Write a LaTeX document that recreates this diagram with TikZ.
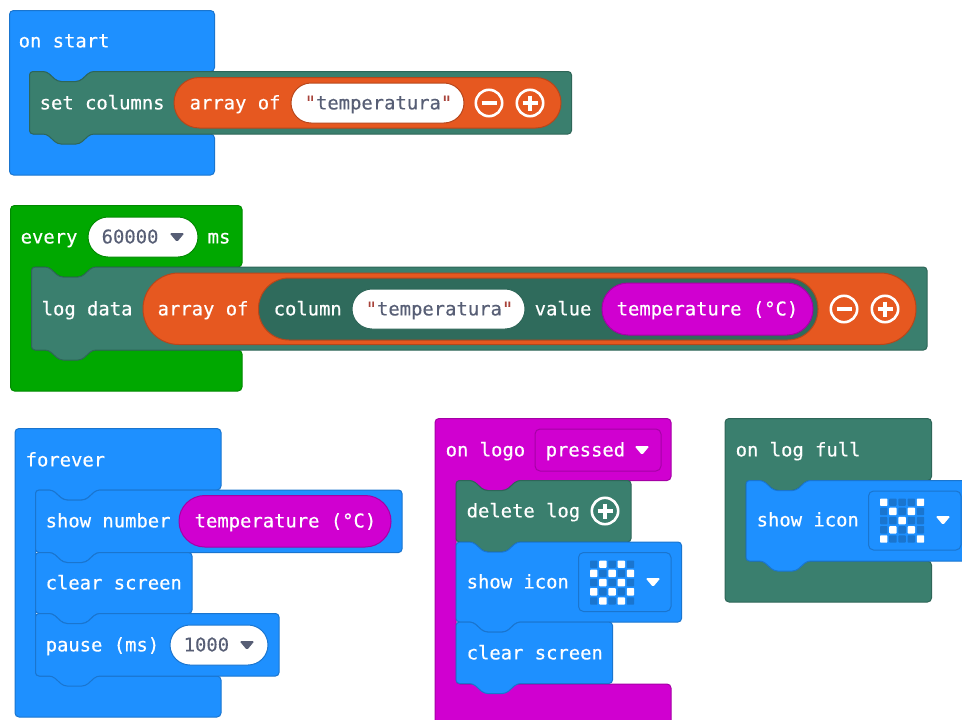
\documentclass[tikz,border=0pt]{standalone}
\usepackage{fontspec}
\setmonofont{DejaVu Sans Mono}
\newfontfamily\blockfont{DejaVu Sans Mono}[FakeBold=0.45]
\newfontfamily\litfont{DejaVu Sans Mono}[FakeBold=0.3]
\definecolor{bluef}{HTML}{1E90FF}\definecolor{blued}{HTML}{1A75CF}
\definecolor{tealf}{HTML}{3A7F6E}\definecolor{teald}{HTML}{2E6658}
\definecolor{tealx}{HTML}{2F6B5C}
\definecolor{greenf}{HTML}{00A800}\definecolor{greend}{HTML}{008A00}
\definecolor{magf}{HTML}{D000D0}\definecolor{magd}{HTML}{A600A6}
\definecolor{orf}{HTML}{E65820}\definecolor{ord}{HTML}{B8461A}
\definecolor{inkc}{HTML}{575E75}\definecolor{quotec}{HTML}{A8433A}
\tikzset{
  lbl/.style={anchor=base west,inner sep=0pt,text=white,font=\blockfont\fontsize{18.85}{20}\selectfont},
  lit/.style={lbl,text=inkc,font=\litfont\fontsize{18.85}{20}\selectfont},
  bluek/.style={fill=bluef,draw=blued},
  tealk/.style={fill=tealf,draw=teald},
  greenk/.style={fill=greenf,draw=greend},
  magk/.style={fill=magf,draw=magd},
  orangek/.style={fill=orf,draw=ord},
  whitek/.style={fill=white,draw=#1},
}
% x0,y0,x1,y1,style : statement block with notch and bump
\newcommand\stk[5]{\path[#5,line width=1pt,rounded corners=3.5pt]
  (#1,#2) -- (#1+17,#2) -- (#1+28,#2+10) -- (#1+50,#2+10) -- (#1+61,#2) -- (#3,#2)
  -- (#3,#4) -- (#1+61,#4) -- (#1+50,#4+10) -- (#1+28,#4+10) -- (#1+17,#4) -- (#1,#4) -- cycle;}
% x0,y0,x1,y1,yA,yB,xi,style : C-shaped hat, its upper arm carrying a bump
\newcommand\hatb[8]{\path[#8,line width=1pt,rounded corners=4pt]
  (#1,#2) -- (#3,#2) -- (#3,#5) -- (#7+61,#5) -- (#7+50,#5+10) -- (#7+28,#5+10) -- (#7+17,#5)
  -- (#7,#5) -- (#7,#6) -- (#3,#6) -- (#3,#4) -- (#1,#4) -- cycle;}
% x0,y0,x1,y1,style : pill
\newcommand\pill[5]{\path[#5,line width=1pt,rounded corners=0.4999*(#4-#2)*1pt] (#1,#2) rectangle (#3,#4);}
% cx,cy,colour
\newcommand\tri[3]{\fill[#3,rounded corners=1.5pt] (#1-7.5,#2-4) -- (#1+7.5,#2-4) -- (#1,#2+5) -- cycle;}
\newcommand\roundbtn[3]{%
  \draw[white,line width=2.6pt] (#1,#2) circle[radius=13.2pt];
  \draw[white,line width=4.4pt] (#1-7.5,#2) -- (#1+7.5,#2);
  \ifnum#3=1 \draw[white,line width=4.4pt] (#1,#2-7.5) -- (#1,#2+7.5);\fi}
% x0,y0,pattern
\newcommand\icongrid[3]{\foreach \v [count=\i from 0] in {#3}{%
  \pgfmathtruncatemacro\cc{mod(\i,5)}\pgfmathtruncatemacro\rr{int(\i/5)}%
  \ifnum\v=1 \def\cl{white}\else \def\cl{blued}\fi
  \fill[\cl,rounded corners=0.8pt] (#1+\cc*9.2,#2+\rr*9.2) rectangle ++(7.4,7.4);}}
\newcommand\lab[4]{\node[lbl] (#1) at (#2-0.5,#3+6.4) {#4};}
\newcommand\lit[4]{\node[lit] (#1) at (#2-0.5,#3+6.4) {#4};}
\newcommand\qt[1]{\textcolor{quotec}{"}#1\textcolor{quotec}{"}}
\begin{document}
\begin{tikzpicture}[x=1pt,y=-1pt]
\clip (0,0) rectangle (962,720);
\fill[white] (0,0) rectangle (962,720);
% on start
\hatb{9.5}{10.5}{214.5}{175}{71.5}{134}{29.5}{bluek}
\lab{a1}{19}{41}{on start}
\stk{29.5}{71.5}{571.5}{134}{tealk}
\lab{a2}{40}{103}{set columns}
\pill{174}{77.5}{561}{128}{orangek}
\lab{a3}{190}{103}{array of}
\pill{291}{83}{464}{123}{whitek=ord}
\lit{a4}{305}{103}{\qt{temperatura}}
\roundbtn{489}{103}{0}\roundbtn{530}{103}{1}
% every
\hatb{10.5}{205.5}{242}{391}{267}{350}{31.5}{greenk}
\lab{b1}{21}{237}{every}
\pill{88}{217}{198}{257}{whitek=greend}
\lit{b2}{102}{237}{60000}
\tri{177}{237}{inkc}
\lab{b3}{208}{237}{ms}
\stk{31.5}{267}{927}{350}{tealk}
\lab{b4}{42}{309}{log data}
\pill{143}{273}{916}{344.5}{orangek}
\lab{b5}{158}{309}{array of}
\path[fill=tealx,draw=ord,line width=1pt,rounded corners=30.5pt] (258.5,278) rectangle (818,340);
\lab{b6}{274}{309}{column}
\pill{352}{289}{525}{329}{whitek=teald}
\lit{b7}{366}{309}{\qt{temperatura}}
\lab{b8}{535}{309}{value}
\pill{602}{283}{813}{335}{magk}
\lab{b9}{617}{309}{temperature (°C)}
\roundbtn{844}{309}{0}\roundbtn{885}{309}{1}
% forever
\hatb{15}{428.5}{221}{717}{490}{676}{35.5}{bluek}
\lab{c1}{26}{460}{forever}
\stk{35.5}{490}{402}{552.5}{bluek}
\lab{c2}{46}{521}{show number}
\pill{179}{495.5}{391}{547}{magk}
\lab{c3}{195}{521}{temperature (°C)}
\stk{35.5}{552.5}{192}{613.5}{bluek}
\lab{c4}{46}{583}{clear screen}
\stk{35.5}{613.5}{279}{676}{bluek}
\lab{c5}{46}{645}{pause (ms)}
\pill{170}{625}{268}{665}{whitek=blued}
\lit{c6}{184}{645}{1000}
\tri{247}{645}{inkc}
% on logo
\hatb{435}{418.5}{671}{740}{480.5}{684}{456}{magk}
\lab{d1}{446}{450}{on logo}
\path[draw=magd,line width=1pt,rounded corners=5pt] (535,429) rectangle (661,471);
\lab{d2}{546}{450}{pressed}
\tri{642}{450}{white}
\stk{456}{480.5}{631}{542}{tealk}
\lab{d3}{467}{511}{delete log}
\roundbtn{605}{511}{1}
\stk{456}{542}{681.5}{622}{bluek}
\lab{d4}{467}{582}{show icon}
\path[draw=blued,line width=1pt,rounded corners=5pt] (578.5,552.5) rectangle (671,611.5);
\icongrid{590}{560.5}{0,1,0,1,0, 1,0,1,0,1, 0,1,0,1,0, 1,0,1,0,1, 0,1,0,1,0}
\tri{653}{582}{white}
\stk{456}{622}{612.5}{683.5}{bluek}
\lab{d5}{467}{653}{clear screen}
% on log full
\hatb{725}{418.5}{931.5}{602}{480.5}{561}{746}{tealk}
\lab{e1}{736}{450}{on log full}
\stk{746}{480.5}{975}{561}{bluek}
\lab{e2}{757}{520}{show icon}
\path[draw=blued,line width=1pt,rounded corners=5pt] (868.5,491) rectangle (961,550);
\icongrid{880}{498.5}{1,0,0,0,1, 0,1,0,1,0, 0,0,1,0,0, 0,1,0,1,0, 1,0,0,0,1}
\tri{943}{520}{white}
\end{tikzpicture}
\end{document}
